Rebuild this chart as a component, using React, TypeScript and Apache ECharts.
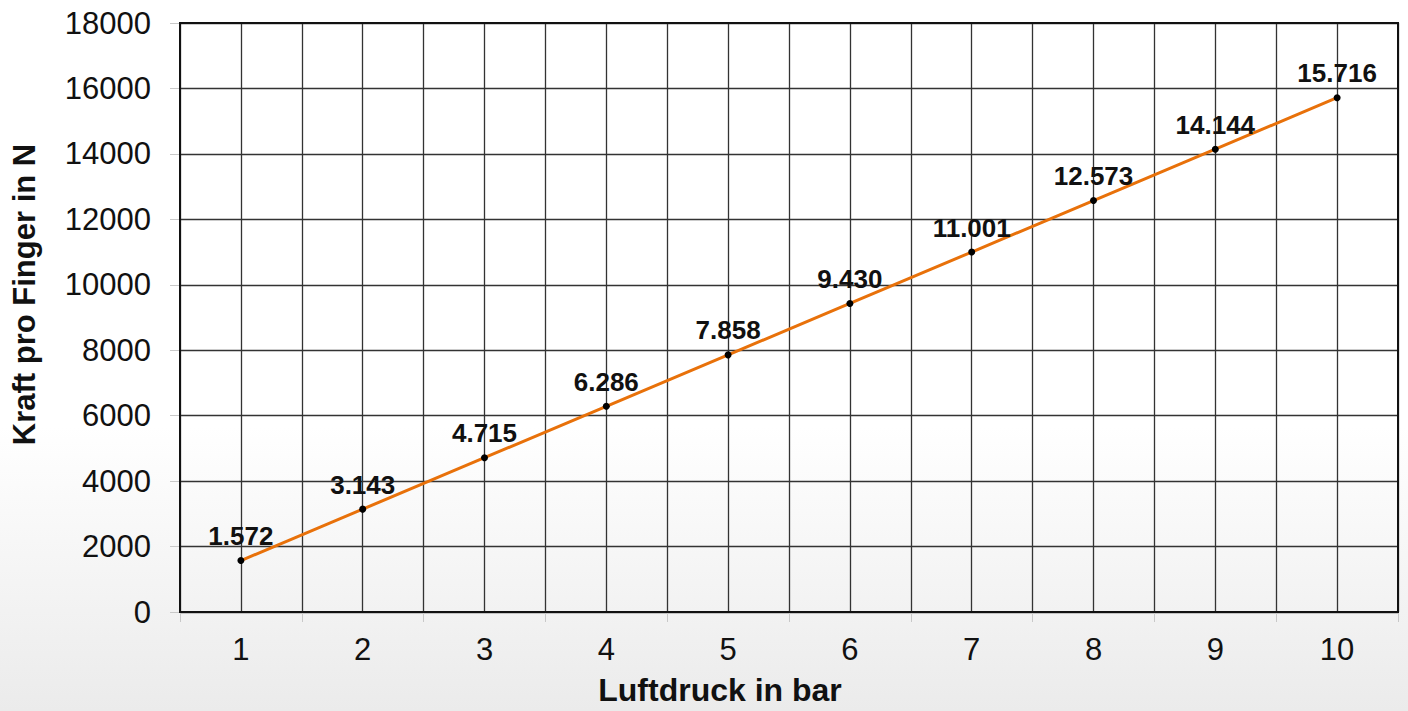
import React, { useEffect, useRef } from "react";
import * as echarts from "echarts";

const categories = ["1", "2", "3", "4", "5", "6", "7", "8", "9", "10"];
const forceValues = [1572, 3143, 4715, 6286, 7858, 9430, 11001, 12573, 14144, 15716];
const halfSteps = Array.from({ length: 20 }, () => "");
const yMin = 0;
const yMax = 18000;
const yInterval = 2000;
const xTitle = "Luftdruck in bar";
const yTitle = "Kraft pro Finger in N";

const FONT = "'Liberation Sans', Arial, Helvetica, sans-serif";

function formatDe(v: number): string {
  return String(Math.round(v)).replace(/\B(?=(\d{3})+(?!\d))/g, ".");
}

export default function App() {
  const ref = useRef<HTMLDivElement>(null);

  useEffect(() => {
    if (!ref.current) return;
    const chart = echarts.init(ref.current, undefined, { renderer: "svg" });
    chart.setOption({
      animation: false,
      backgroundColor: "transparent",
      textStyle: { fontFamily: FONT },
      grid: {
        left: 180,
        top: 23,
        right: 10,
        bottom: 99,
        show: true,
        borderColor: "#111",
        borderWidth: 2,
        backgroundColor: "transparent",
        z: 3,
      },
      xAxis: [
        {
          type: "category",
          data: categories,
          boundaryGap: true,
          name: xTitle,
          nameLocation: "middle",
          nameGap: 62,
          nameTextStyle: {
            fontFamily: FONT,
            fontSize: 32,
            fontWeight: "bold",
            color: "#111",
            padding: [0, 138, 0, 0],
          },
          axisLine: { show: true, lineStyle: { color: "#111", width: 2 } },
          axisTick: { show: true, alignWithLabel: false, length: 10, lineStyle: { color: "#c8c8c8", width: 1 } },
          axisLabel: { fontFamily: FONT, fontSize: 31, color: "#111", margin: 22 },
          splitLine: { show: false },
        },
        {
          type: "category",
          data: halfSteps,
          boundaryGap: true,
          position: "bottom",
          axisLine: { show: false },
          axisTick: { show: false },
          axisLabel: { show: false },
          splitLine: { show: true, interval: 0, lineStyle: { color: "#333", width: 1.3 } },
        },
      ],
      yAxis: {
        type: "value",
        min: yMin,
        max: yMax,
        interval: yInterval,
        name: yTitle,
        nameLocation: "middle",
        nameGap: 140,
        nameTextStyle: {
          fontFamily: FONT,
          fontSize: 31,
          fontWeight: "bold",
          color: "#111",
          padding: [0, 0, 0, 46],
        },
        axisLine: { show: true, lineStyle: { color: "#111", width: 2 } },
        axisTick: { show: true, length: 10, lineStyle: { color: "#c8c8c8", width: 1 } },
        axisLabel: {
          fontFamily: FONT,
          fontSize: 31,
          color: "#111",
          margin: 29,
          formatter: (v: number) => String(v),
        },
        splitLine: { show: true, lineStyle: { color: "#333", width: 1.3 } },
      },
      series: [
        {
          type: "line",
          xAxisIndex: 0,
          data: forceValues,
          smooth: false,
          symbol: "circle",
          symbolSize: 7,
          z: 5,
          itemStyle: { color: "#000" },
          lineStyle: { color: "#E8710A", width: 3 },
          label: {
            show: true,
            position: "top",
            distance: 8,
            fontFamily: FONT,
            fontSize: 26,
            fontWeight: "bold",
            color: "#111",
            formatter: (p: any) => formatDe(p.value),
          },
        },
      ],
    });
    return () => chart.dispose();
  }, []);

  return (
    <div
      style={{
        position: "fixed",
        left: 0,
        top: 0,
        width: 1408,
        height: 711,
        background: "linear-gradient(180deg, #ffffff 0%, #ffffff 60%, #ebebeb 100%)",
      }}
    >
      <div ref={ref} style={{ width: 1408, height: 711 }} />
    </div>
  );
}
